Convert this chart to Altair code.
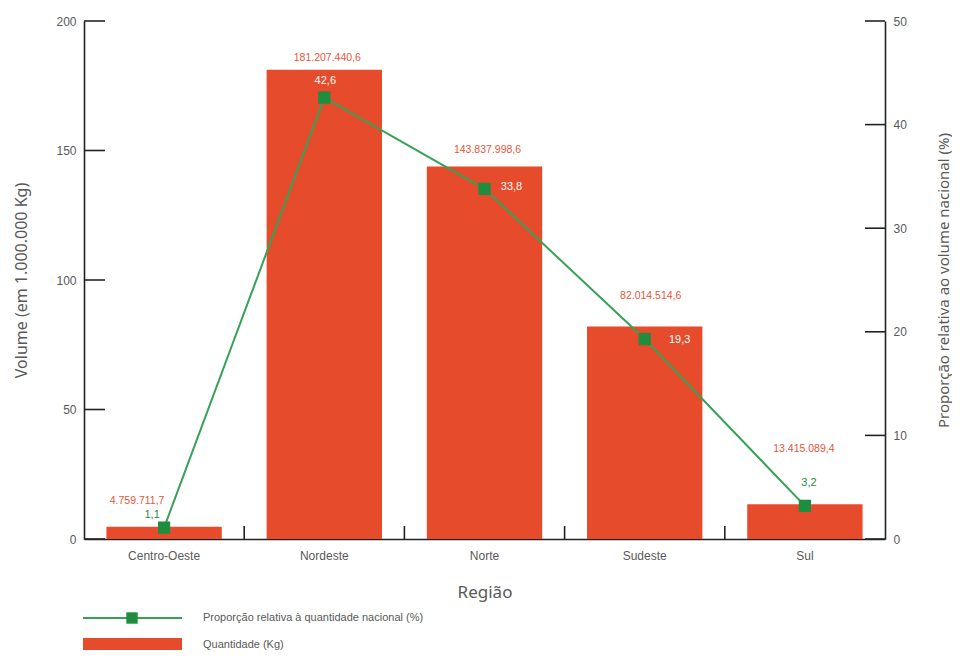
import altair as alt
import pandas as pd

regions = ["Centro-Oeste", "Nordeste", "Norte", "Sudeste", "Sul"]
quantity_kg = [4759711.7, 181207440.6, 143837998.6, 82014514.6, 13415089.4]
share_pct = [1.1, 42.6, 33.8, 19.3, 3.2]
left_ticks = [0, 50, 100, 150, 200]
right_ticks = [0, 10, 20, 30, 40, 50]


def br(v, d=1):
    s = f"{v:,.{d}f}"
    return s.replace(",", "X").replace(".", ",").replace("X", ".")


df = pd.DataFrame({
    "regiao": regions,
    "vol": [q / 1e6 for q in quantity_kg],
    "qlabel": [br(q) for q in quantity_kg],
    "pct": share_pct,
    "plabel": [br(p) for p in share_pct],
})

W, H = 801, 518
STEP = W / 5
BAR = "#E64B2B"
RED_TXT = "#E8553A"
GREEN = "#36A257"
DKGREEN = "#1E8E3E"
GRAY = "#595959"
FONT = "Liberation Sans"

xscale = alt.Scale(domain=regions, paddingInner=0.28, paddingOuter=0.14)
lscale = alt.Scale(domain=[0, 200], nice=False)
rscale = alt.Scale(domain=[0, 50], nice=False)

x_axis = alt.Axis(title="Região", labelAngle=0, ticks=False, domainColor="#222",
                  domainWidth=1.6, labelColor=GRAY, labelFontSize=12, labelFont=FONT,
                  labelPadding=11, titleFontSize=17, titleFont="Noto Sans",
                  titleColor=GRAY, titleFontWeight="normal", titlePadding=23)


def X():
    return alt.X("regiao:N", sort=regions, scale=xscale, axis=x_axis)


left_axis = alt.Axis(title="Volume (em 1.000.000 Kg)", orient="left", ticks=False,
                     grid=False, values=left_ticks, domainColor="#222", domainWidth=1.6,
                     labelColor=GRAY, labelFontSize=12, labelFont=FONT, labelPadding=8,
                     titleFontSize=16, titleFont="Noto Sans", titleColor=GRAY,
                     titleFontWeight="normal", titlePadding=26)
right_axis = alt.Axis(title="Proporção relativa ao volume nacional (%)", orient="right",
                      ticks=False, grid=False, values=right_ticks, domainColor="#222",
                      domainWidth=1.6, labelColor=GRAY, labelFontSize=12, labelFont=FONT,
                      labelPadding=8, titleFontSize=15, titleFont="Noto Sans",
                      titleColor=GRAY, titleFontWeight="normal", titlePadding=45,
                      titleAngle=270)

base = alt.Chart(df)

bars = base.mark_bar(color=BAR).encode(
    x=X(), y=alt.Y("vol:Q", scale=lscale, axis=left_axis))

line = base.mark_line(color=GREEN, strokeWidth=2).encode(
    x=X(), y=alt.Y("pct:Q", scale=rscale, axis=right_axis))
pts = base.mark_point(shape="square", filled=True, size=150, color=DKGREEN, opacity=1).encode(
    x=X(), y=alt.Y("pct:Q", scale=rscale, axis=None))

# value label offsets (dx, dy) per region
qoff = {"Centro-Oeste": (-27, -26), "Nordeste": (3, -12), "Norte": (3, -16),
        "Sudeste": (6, -31), "Sul": (-1, -55)}
poff = {"Centro-Oeste": (-12, -13, DKGREEN), "Nordeste": (1, -17, "white"),
        "Norte": (27, -2, "white"), "Sudeste": (35, 1, "white"),
        "Sul": (4, -23, DKGREEN)}

qlayers = []
plabel_layers = []
for r in regions:
    dx, dy = qoff[r]
    qlayers.append(base.transform_filter(alt.datum.regiao == r).mark_text(
        color=RED_TXT, fontSize=10.5, font=FONT, dx=dx, dy=dy, baseline="middle").encode(
        x=X(), y=alt.Y("vol:Q", scale=lscale, axis=None), text="qlabel:N"))
    pdx, pdy, col = poff[r]
    plabel_layers.append(base.transform_filter(alt.datum.regiao == r).mark_text(
        color=col, fontSize=11, font=FONT, dx=pdx, dy=pdy, baseline="middle").encode(
        x=X(), y=alt.Y("pct:Q", scale=rscale, axis=None), text="plabel:N"))

# inward ticks
lt = alt.Chart(pd.DataFrame({"v": left_ticks})).mark_rule(color="#222", strokeWidth=1.6).encode(
    y=alt.Y("v:Q", scale=lscale, axis=None), x=alt.value(0), x2=alt.value(21))
rt = alt.Chart(pd.DataFrame({"v": right_ticks})).mark_rule(color="#222", strokeWidth=1.6).encode(
    y=alt.Y("v:Q", scale=rscale, axis=None), x=alt.value(W - 20), x2=alt.value(W))
xt = alt.Chart(pd.DataFrame({"regiao": regions[1:]})).mark_rule(
    color="#222", strokeWidth=1.6, xOffset=-STEP / 2).encode(
    x=X(), y=alt.value(H), y2=alt.value(H - 13))

# legend
one = pd.DataFrame({"a": [0]})
leg_line = alt.Chart(one).mark_rule(color=GREEN, strokeWidth=2).encode(
    x=alt.value(-1), x2=alt.value(98), y=alt.value(597))
leg_pt = alt.Chart(one).mark_point(shape="square", filled=True, size=130, color=DKGREEN, opacity=1).encode(
    x=alt.value(48), y=alt.value(597))
leg_t1 = alt.Chart(one).mark_text(align="left", baseline="middle", fontSize=11, font=FONT, color=GRAY).encode(
    x=alt.value(119), y=alt.value(597), text=alt.value("Proporção relativa à quantidade nacional (%)"))
leg_rect = alt.Chart(one).mark_rect(color=BAR).encode(
    x=alt.value(-1), x2=alt.value(98), y=alt.value(617), y2=alt.value(640))
leg_t2 = alt.Chart(one).mark_text(align="left", baseline="middle", fontSize=11, font=FONT, color=GRAY).encode(
    x=alt.value(119), y=alt.value(624), text=alt.value("Quantidade (Kg)"))

chart = alt.layer(
    bars, *qlayers, line, pts, *plabel_layers, lt, rt, xt,
    leg_line, leg_pt, leg_t1, leg_rect, leg_t2,
).resolve_scale(y="independent").properties(
    width=W, height=H,
    autosize=alt.AutoSizeParams(type="none"),
    padding={"left": 76, "top": 13, "right": 67, "bottom": 111},
).configure_view(stroke=None).configure_axis(grid=False)

chart.save("out.html", embed_options={"renderer": "svg", "actions": False})
